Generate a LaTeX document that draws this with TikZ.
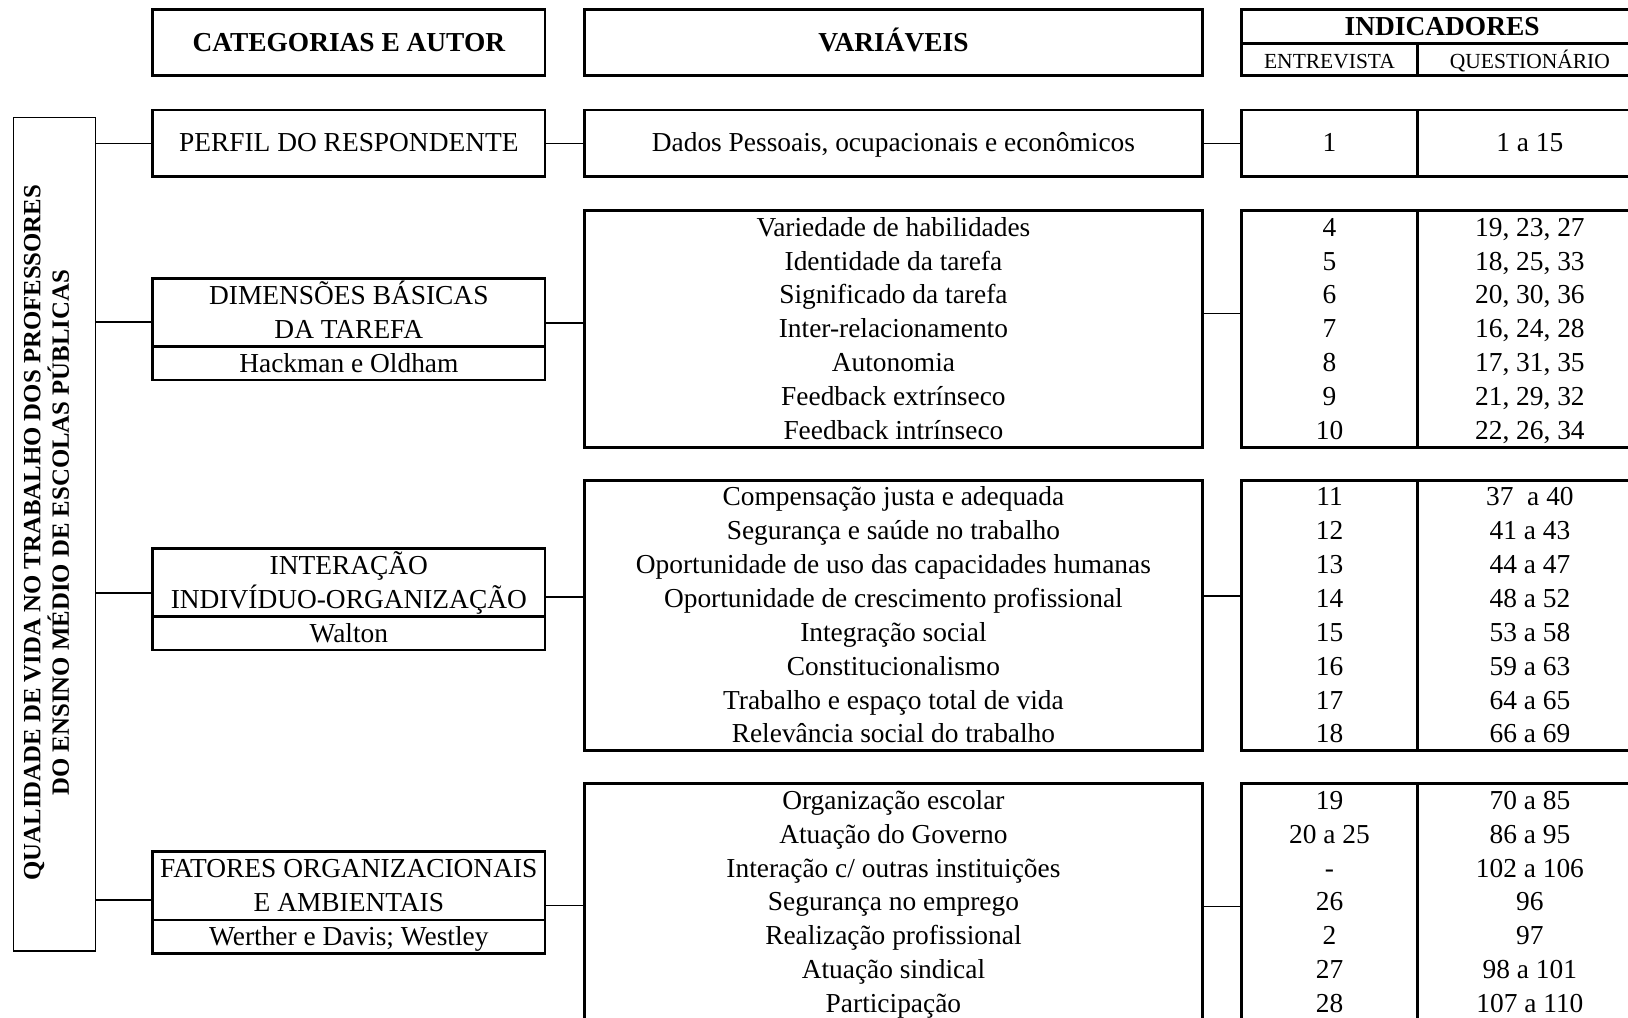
\documentclass[tikz,border=0pt]{standalone}
\usepackage{fontspec}
\setmainfont{Liberation Serif}
\usepackage{tikz}
\usetikzlibrary{positioning}

\newcommand\boxfont{\fontsize{13.7}{16.93}\selectfont}
\newcommand\headfont{\fontsize{13.7}{16.93}\selectfont\bfseries}
\newcommand\smallhead{\fontsize{10.75}{12.6}\selectfont}
\newcommand\sidefont{\fontsize{12.4}{14.3}\selectfont\bfseries}
\newcommand\pxu{0.5192pt}

\tikzset{
  box/.style={draw, line width=1.4pt, inner sep=0pt, outer sep=0pt, anchor=north west,
    align=center, font=\boxfont, text height=12.6pt, text depth=3.9pt},
  rows/.style={text height=#1},
  catbox/.style={box, minimum width=378*\pxu},
  varbox/.style={box, minimum width=595*\pxu},
  entbox/.style={box, minimum width=169*\pxu},
  qstbox/.style={box, minimum width=217*\pxu},
  link/.style={line width=0.7pt}
}

\begin{document}
\begin{tikzpicture}[x=0.5192pt, y=-0.5192pt]
        \useasboundingbox (0,0) rectangle (1568,980);
        \clip (0,0) rectangle (1568,980);

        \node[catbox, font=\headfont, minimum height=64*\pxu] (cat) at (147,9) {CATEGORIAS E AUTOR};
        \node[varbox, font=\headfont, minimum height=64*\pxu] (var) at (563,9) {VARIÁVEIS};
        \node[box, font=\headfont, minimum width=386*\pxu, minimum height=33*\pxu] (ind) at (1196,9) {INDICADORES};
        \node[entbox, font=\smallhead, text height=11pt, text depth=2.4pt, minimum height=31*\pxu] (ent0) at (1196,42) {ENTREVISTA};
        \node[qstbox, font=\smallhead, text height=11pt, text depth=2.4pt, minimum height=31*\pxu] (qst0) at (1365,42) {QUESTIONÁRIO};

        \node[draw, line width=0.7pt, inner sep=0pt, outer sep=0pt, anchor=north west,
          minimum width=79*\pxu, minimum height=803*\pxu] (qvt) at (13,113) {};
        \node[rotate=90, align=center, font=\sidefont] (qvtlabel) at (44.75,513)
          {QUALIDADE DE VIDA NO TRABALHO DOS PROFESSORES\\DO ENSINO MÉDIO DE ESCOLAS PÚBLICAS};

        \node[catbox, minimum height=64*\pxu] (perfil) at (147,106) {PERFIL DO RESPONDENTE};
        \node[varbox, minimum height=64*\pxu] (dados) at (563,106) {Dados Pessoais, ocupacionais e econômicos};
        \node[entbox, minimum height=64*\pxu] (ent1) at (1196,106) {1};
        \node[qstbox, minimum height=64*\pxu] (qst1) at (1365,106) {1 a 15};

        \node[catbox, rows=29.53pt, minimum height=66*\pxu] (dim) at (147,268) {DIMENSÕES BÁSICAS\\DA TAREFA};
        \node[catbox, minimum height=32*\pxu, below=0pt of dim] (hackman) {Hackman e Oldham};
        \node[varbox, rows=114.18pt, minimum height=228*\pxu] (var2) at (563,203) {Variedade de habilidades\\Identidade da tarefa\\Significado da tarefa\\Inter-relacionamento\\Autonomia\\Feedback extrínseco\\Feedback intrínseco};
        \node[entbox, rows=114.18pt, minimum height=228*\pxu] (ent2) at (1196,203) {4\\5\\6\\7\\8\\9\\10};
        \node[qstbox, rows=114.18pt, minimum height=228*\pxu] (qst2) at (1365,203) {19, 23, 27\\18, 25, 33\\20, 30, 36\\16, 24, 28\\17, 31, 35\\21, 29, 32\\22, 26, 34};

        \node[catbox, rows=29.53pt, minimum height=66*\pxu] (inter) at (147,528) {INTERAÇÃO\\INDIVÍDUO-ORGANIZAÇÃO};
        \node[catbox, minimum height=32*\pxu, below=0pt of inter] (walton) {Walton};
        \node[varbox, rows=131.1pt, minimum height=260*\pxu] (var3) at (563,463) {Compensação justa e adequada\\Segurança e saúde no trabalho\\Oportunidade de uso das capacidades humanas\\Oportunidade de crescimento profissional\\Integração social\\Constitucionalismo\\Trabalho e espaço total de vida\\Relevância social do trabalho};
        \node[entbox, rows=131.1pt, minimum height=260*\pxu] (ent3) at (1196,463) {11\\12\\13\\14\\15\\16\\17\\18};
        \node[qstbox, rows=131.1pt, minimum height=260*\pxu] (qst3) at (1365,463) {37~~a 40\\41 a 43\\44 a 47\\48 a 52\\53 a 58\\59 a 63\\64 a 65\\66 a 69};

        \node[catbox, rows=29.53pt, minimum height=66*\pxu] (fat) at (147,820) {FATORES ORGANIZACIONAIS\\E AMBIENTAIS};
        \node[catbox, minimum height=32*\pxu, below=0pt of fat] (werther) {Werther e Davis; Westley};
        \node[varbox, rows=114.18pt, minimum height=228*\pxu] (var4) at (563,755) {Organização escolar\\Atuação do Governo\\Interação c/ outras instituições\\Segurança no emprego\\Realização profissional\\Atuação sindical\\Participação};
        \node[entbox, rows=114.18pt, minimum height=228*\pxu] (ent4) at (1196,755) {19\\20 a 25\\-\\26\\2\\27\\28};
        \node[qstbox, rows=114.18pt, minimum height=228*\pxu] (qst4) at (1365,755) {70 a 85\\86 a 95\\102 a 106\\96\\97\\98 a 101\\107 a 110};

        \coordinate (l2) at (0,310);
        \coordinate (m2) at (0,311);
        \coordinate (r2) at (0,302);
        \coordinate (l3) at (0,571);
        \coordinate (m3) at (0,575);
        \coordinate (r3) at (0,574);
        \coordinate (l4) at (0,867);
        \coordinate (m4) at (0,872);
        \coordinate (r4) at (0,873);

        \draw[link] (qvt.east |- perfil.west) -- (perfil.west);
        \draw[link] (perfil.east) -- (dados.west);
        \draw[link] (dados.east) -- (ent1.west);
        \draw[link] (qvt.east |- l2) -- (dim.west |- l2);
        \draw[link] (dim.east |- m2) -- (var2.west |- m2);
        \draw[link] (var2.east |- r2) -- (ent2.west |- r2);
        \draw[link] (qvt.east |- l3) -- (inter.west |- l3);
        \draw[link] (inter.east |- m3) -- (var3.west |- m3);
        \draw[link] (var3.east |- r3) -- (ent3.west |- r3);
        \draw[link] (qvt.east |- l4) -- (fat.west |- l4);
        \draw[link] (fat.east |- m4) -- (var4.west |- m4);
        \draw[link] (var4.east |- r4) -- (ent4.west |- r4);
\end{tikzpicture}
\end{document}
